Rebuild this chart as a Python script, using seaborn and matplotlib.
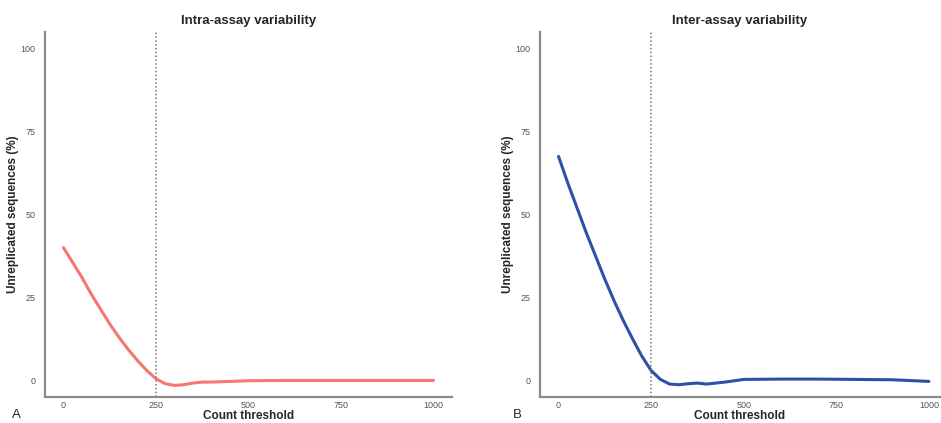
import numpy as np
import pandas as pd
import seaborn as sns
import matplotlib.pyplot as plt

# count thresholds and % unreplicated sequences
threshold = [0, 25, 50, 75, 100, 125, 150, 175, 200, 225, 250, 275, 300, 325, 350, 375, 400, 450, 500, 600, 700, 800, 900, 1000]
intra = [40.0, 35.5, 31.0, 26.0, 21.5, 17.0, 13.0, 9.3, 6.0, 3.0, 0.5, -1.0, -1.5, -1.3, -0.8, -0.5, -0.5, -0.3, -0.1, 0.0, 0.0, 0.0, 0.0, 0.0]
inter = [67.5, 59.5, 52.0, 44.5, 37.5, 30.5, 24.0, 18.0, 12.5, 7.3, 3.0, 0.3, -1.1, -1.3, -1.0, -0.8, -1.1, -0.5, 0.3, 0.4, 0.4, 0.3, 0.2, -0.3]

titles = ["Intra-assay variability", "Inter-assay variability"]
panel_tags = ["A", "B"]
colors = ["#F8766D", "#2E50A8"]

sns.set_theme(style="white")
plt.rcParams['font.family'] = ['Liberation Sans', 'DejaVu Sans']

fig = plt.figure(figsize=(9.41, 4.23), dpi=100)
ax1 = fig.add_axes([45/941, 26/423, 407/941, 365/423])
ax2 = fig.add_axes([540/941, 26/423, 400/941, 365/423])

df = pd.DataFrame({"threshold": threshold, "intra": intra, "inter": inter})

for ax, col, title, c, tag, xmax in zip([ax1, ax2], ["intra", "inter"], titles, colors, panel_tags, [1050, 1030]):
    sns.lineplot(data=df, x="threshold", y=col, ax=ax, color=c, linewidth=2.2)
    ax.axvline(250, color="#777777", linestyle=(0, (1, 1.5)), linewidth=1.1)
    ax.set_xlim(-50, xmax)
    ax.set_ylim(-5, 105)
    ax.set_xticks([0, 250, 500, 750, 1000])
    ax.set_yticks([0, 25, 50, 75, 100])
    ax.tick_params(axis="x", length=0, labelsize=6.5, labelcolor="#555555", pad=3)
    ax.tick_params(axis="y", length=0, labelsize=6.5, labelcolor="#555555", pad=7)
    ax.set_xlabel("Count threshold", fontsize=8.5, fontweight="bold", labelpad=0)
    ax.set_ylabel("Unreplicated sequences (%)", fontsize=8.5, fontweight="bold", labelpad=1)
    ax.set_title(title, fontsize=9.5, fontweight="bold", pad=6)
    for s in ["top", "right"]:
        ax.spines[s].set_visible(False)
    for s in ["left", "bottom"]:
        ax.spines[s].set_color("#8a8a8a")
        ax.spines[s].set_linewidth(1.6)

fig.text(12/941, 1 - 415/423, "A", fontsize=9.5, va="center", ha="left")
fig.text(513/941, 1 - 415/423, "B", fontsize=9.5, va="center", ha="left")

fig.savefig("out.png", dpi=100)
